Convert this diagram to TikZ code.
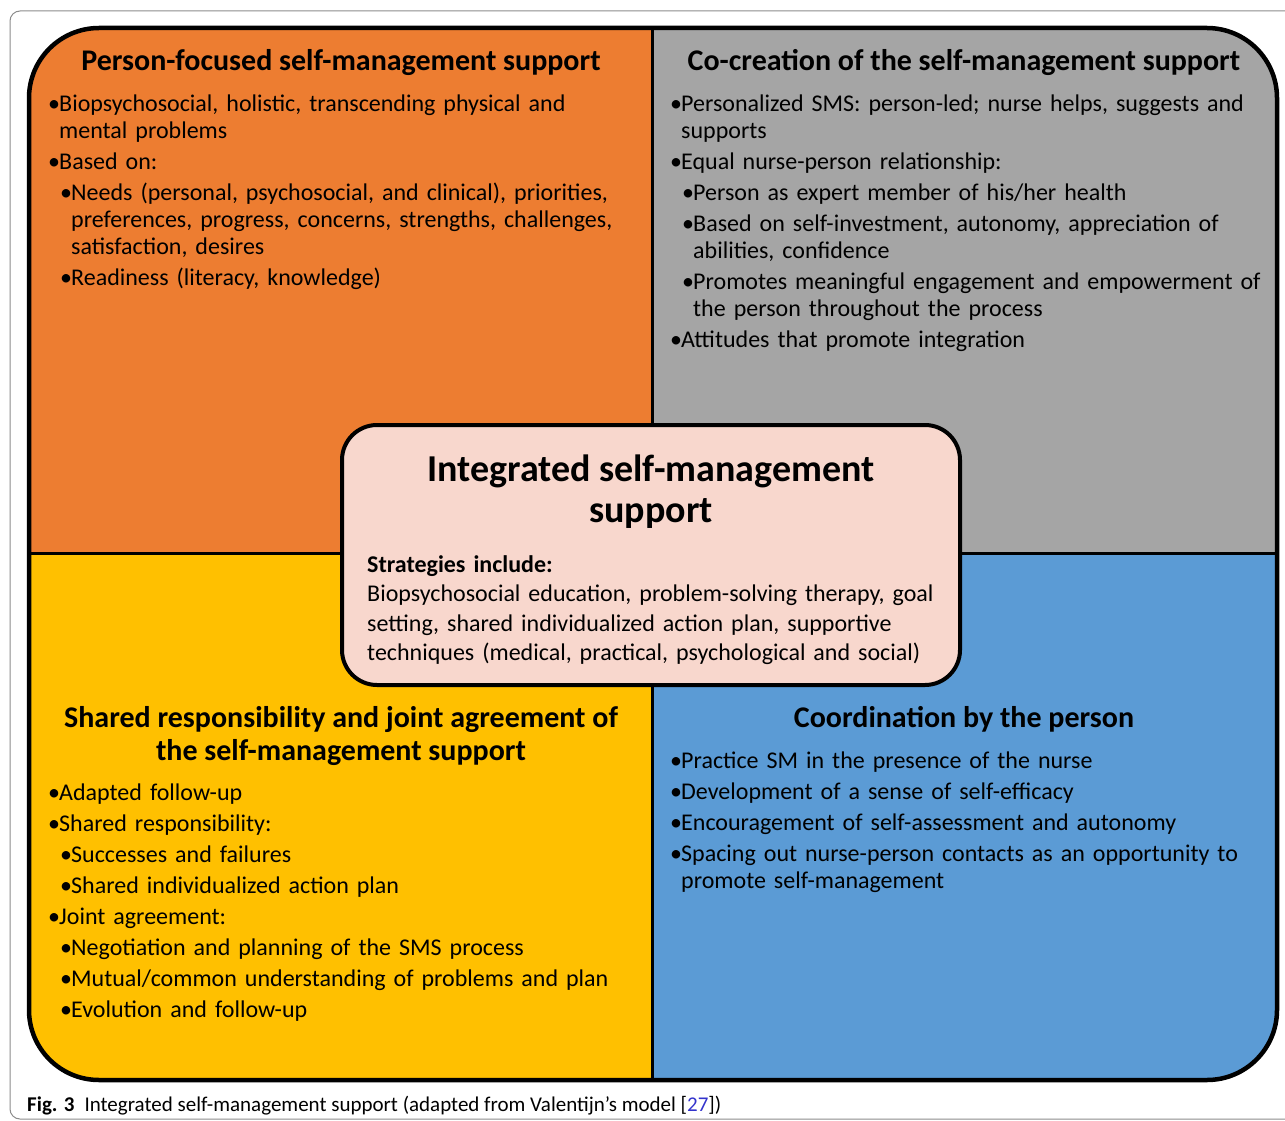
\documentclass[tikz,border=0pt]{standalone}
\usepackage{fontspec}
\setmainfont{Carlito}
\usetikzlibrary{positioning}

\definecolor{qorange}{RGB}{237,125,49}
\definecolor{qgray}{RGB}{165,165,165}
\definecolor{qyellow}{RGB}{255,192,0}
\definecolor{qblue}{RGB}{91,155,213}
\definecolor{corepink}{RGB}{248,215,205}
\definecolor{reflink}{RGB}{51,51,204}

\newcommand{\bodyfont}{\fontsize{24}{27}\selectfont}
\newcommand{\headfont}{\fontsize{30}{33}\selectfont\bfseries}
\newcommand{\bul}[1]{\par\hangindent=11pt\hangafter=1\noindent\strut\makebox[11pt][l]{•}#1\par}
\newcommand{\subbul}[1]{\par\hangindent=23pt\hangafter=1\noindent\strut\hspace*{12pt}\makebox[11pt][l]{•}#1\par}

\begin{document}
\begin{tikzpicture}[x=1pt,y=-1pt,
    heading/.style={font=\headfont,align=center,inner sep=0pt,anchor=north},
    itemlist/.style={font=\bodyfont,text width=620pt,align=left,inner sep=0pt,anchor=north west,
      execute at begin node={\setlength{\parskip}{4pt}}},
  ]
  \useasboundingbox (0,0) rectangle (1285,1121);
  % frame of the figure
  \draw[black!45,line width=1pt,rounded corners=10pt] (10,11) rectangle (1310,1119);
  % the four quadrants
  \begin{scope}
    \clip[rounded corners=70pt] (29,28) rectangle (1277,1080);
    \fill[qorange] (29,28) rectangle (652,553);
    \fill[qgray] (652,28) rectangle (1277,553);
    \fill[qyellow] (29,553) rectangle (652,1080);
    \fill[qblue] (652,553) rectangle (1277,1080);
  \end{scope}
  \draw[line width=3pt] (652,28) -- (652,1080);
  \draw[line width=3pt] (29,553) -- (1277,553);
  \draw[line width=4.5pt,rounded corners=70pt] (29,28) rectangle (1277,1080);

  % top left
  \node[heading] (pfHead) at (341,46.9) {\strut Person-focused self-management support};
  \node[itemlist] (pfList) at (48,80.6) {%
    \bul{Biopsychosocial, holistic, transcending physical and\newline mental problems}
    \bul{Based on:}
    \subbul{Needs (personal, psychosocial, and clinical), priorities,\newline preferences, progress, concerns, strengths, challenges,\newline satisfaction, desires}
    \subbul{Readiness (literacy, knowledge)}};

  % top right
  \node[heading] (ccHead) at (964,46.9) {\strut Co-creation of the self-management support};
  \node[itemlist] (ccList) at (670,80.6) {%
    \bul{Personalized SMS: person-led; nurse helps, suggests and\newline supports}
    \bul{Equal nurse-person relationship:}
    \subbul{Person as expert member of his/her health}
    \subbul{Based on self-investment, autonomy, appreciation of\newline abilities, confidence}
    \subbul{Promotes meaningful engagement and empowerment of\newline the person throughout the process}
    \bul{Attitudes that promote integration}};

  % bottom left
  \node[heading] (srHead) at (341,703.9) {\strut Shared responsibility and joint agreement of\\the self-management support};
  \node[itemlist] (srList) at (48,769.6) {%
    \bul{Adapted follow-up}
    \bul{Shared responsibility:}
    \subbul{Successes and failures}
    \subbul{Shared individualized action plan}
    \bul{Joint agreement:}
    \subbul{Negotiation and planning of the SMS process}
    \subbul{Mutual/common understanding of problems and plan}
    \subbul{Evolution and follow-up}};

  % bottom right
  \node[heading] (cpHead) at (964,703.9) {\strut Coordination by the person};
  \node[itemlist] (cpList) at (670,737.6) {%
    \bul{Practice SM in the presence of the nurse}
    \bul{Development of a sense of self-efficacy}
    \bul{Encouragement of self-assessment and autonomy}
    \bul{Spacing out nurse-person contacts as an opportunity to\newline promote self-management}};

  % centre
  \node[draw,fill=corepink,line width=4pt,rounded corners=35pt,
    minimum width=618pt,minimum height=260pt] (core) at (651,555) {};
  \node[font=\fontsize{38}{41}\selectfont\bfseries,align=center,inner sep=0pt,anchor=north]
    (coreHead) at (651,452.3) {\strut Integrated self-management\\support};
  \node[font=\fontsize{24}{29.5}\selectfont,text width=600pt,align=left,inner sep=0pt,anchor=north west]
    (coreText) at (367,551.35) {\strut\textbf{Strategies include:}\\Biopsychosocial education, problem-solving therapy, goal\\setting, shared individualized action plan, supportive\\techniques (medical, practical, psychological and social)};

  % caption
  \node[anchor=base west,inner sep=0pt,font=\fontsize{21}{24}\selectfont] (caption) at (27,1111)
    {\textbf{Fig. 3}\hspace{10pt}Integrated self-management support (adapted from Valentijn’s model [\textcolor{reflink}{27}])};
\end{tikzpicture}
\end{document}
